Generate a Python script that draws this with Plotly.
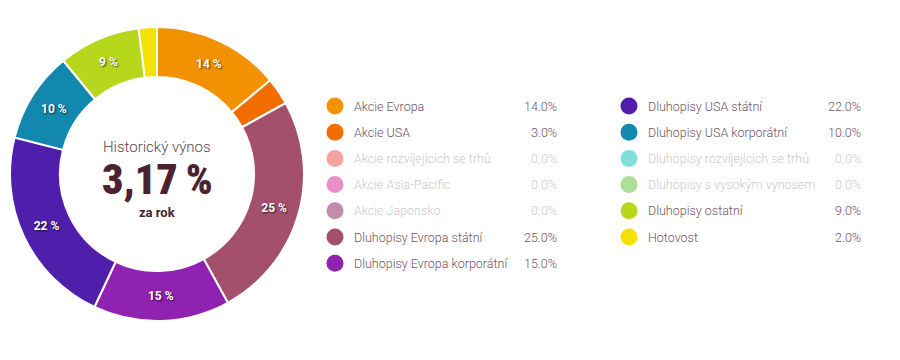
import plotly.graph_objects as go

categories = [
    "Akcie Evropa", "Akcie USA", "Akcie rozvíjejících se trhů", "Akcie Asia-Pacific",
    "Akcie Japonsko", "Dluhopisy Evropa státní", "Dluhopisy Evropa korporátní",
    "Dluhopisy USA státní", "Dluhopisy USA korporátní", "Dluhopisy rozvíjejících se trhů",
    "Dluhopisy s vysokým výnosem", "Dluhopisy ostatní", "Hotovost",
]
values = [14, 3, 0, 0, 0, 25, 15, 22, 10, 0, 0, 9, 2]
colors = [
    "#f39200", "#f36c00", "#f4a3a3", "#e890c6", "#c48aab", "#a4506c", "#8f22b0",
    "#4f1fab", "#1388ae", "#80e0d8", "#acdf94", "#b6d71c", "#f4e100",
]
center_title = "Historický výnos"
center_value = "3,17\u2009%"
center_sub = "za rok"

FONT = "Roboto, sans-serif"
ACTIVE = "#6e5262"
INACTIVE = "#d2c5cc"

OFF = 8  # page body margin
W, H = 900, 360
cx, cy, R = 157 - OFF, 174 - OFF, 147

slice_text = [f"{v} %" if v >= 5 else "" for v in values]

fig = go.Figure()
fig.add_trace(go.Pie(
    labels=categories, values=values, sort=False, direction="clockwise", rotation=0,
    hole=0.66, marker=dict(colors=colors, line=dict(color="white", width=2)),
    text=slice_text, textinfo="text", textposition="inside",
    insidetextorientation="horizontal",
    textfont=dict(family="Roboto, sans-serif", size=12, color="white", weight="bold",
                  shadow="1px 1px 2px rgba(0,0,0,0.7)"),
    domain=dict(x=[(cx - R) / W, (cx + R) / W], y=[(H - cy - R) / H, (H - cy + R) / H]),
    showlegend=False, hoverinfo="label+percent",
))

# custom legend
mx, my, mc = [], [], []
annotations = []
for i, (cat, v, c) in enumerate(zip(categories, values, colors)):
    col, row = divmod(i, 7)
    x0 = 335 - OFF + col * 294
    y0 = 106 - OFF + row * 26.2
    mx.append(x0); my.append(y0); mc.append(c)
    tc = ACTIVE if v > 0 else INACTIVE
    annotations.append(dict(x=x0 + 17, y=y0, xref="x", yref="y", text=cat, showarrow=False,
                            xanchor="left", yanchor="middle",
                            font=dict(family=FONT, size=12.5, color=tc, weight=300)))
    annotations.append(dict(x=x0 + 224 + col * 10, y=y0, xref="x", yref="y", text=f"{v:.1f}%",
                            showarrow=False, xanchor="right", yanchor="middle",
                            font=dict(family=FONT, size=12.5, color=tc, weight=300)))

fig.add_trace(go.Scatter(x=mx, y=my, mode="markers", showlegend=False, hoverinfo="skip",
                         marker=dict(size=17, color=mc, line=dict(width=0))))

annotations += [
    dict(x=cx, y=147 - OFF, xref="x", yref="y", text=center_title, showarrow=False,
         font=dict(family="Roboto, sans-serif", size=15, color="#5a4550", weight=300)),
    dict(x=cx, y=179 - OFF, xref="x", yref="y", text=center_value, showarrow=False,
         font=dict(family="Roboto Condensed, Roboto, sans-serif", size=42, color="#4a2230", weight=900)),
    dict(x=cx, y=212 - OFF, xref="x", yref="y", text=center_sub, showarrow=False,
         font=dict(family="Roboto, sans-serif", size=13, color="#4a2230", weight="bold")),
]

fig.update_layout(
    width=W, height=H, margin=dict(l=0, r=0, t=0, b=0),
    paper_bgcolor="white", plot_bgcolor="white",
    xaxis=dict(range=[0, W], visible=False, fixedrange=True),
    yaxis=dict(range=[H, 0], visible=False, fixedrange=True),
    annotations=annotations,
)
fig.write_html("out.html")
